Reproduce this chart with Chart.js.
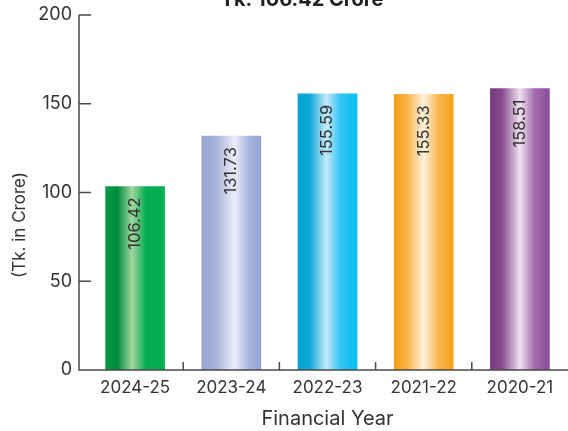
<!DOCTYPE html>
<html>
<head>
<title>Revenue by Financial Year</title>
<script src="https://cdn.jsdelivr.net/npm/chart.js"></script>
<style>
  body { margin: 0; background: #fff; }
  #wrap { width: 568px; height: 431px; }
</style>
</head>
<body>
<div id="wrap"><canvas id="revChart"></canvas></div>
<script>
// data
var years = ["2024-25", "2023-24", "2022-23", "2021-22", "2020-21"];
var valueLabels = ["106.42", "131.73", "155.59", "155.33", "158.51"];   // printed on the bars
var barHeights = [103.4, 131.73, 155.59, 155.33, 158.51];              // height the bars are drawn at
var yTicks = [0, 50, 100, 150, 200];
var titleText = "Tk. 106.42 Crore";
var yTitle = "(Tk. in Crore)";
var xTitle = "Financial Year";

// gradient stops for each bar, left to right
var barStops = [
  [[0, "#0b9a48"], [0.2, "#008b3c"], [0.45, "#a2d69e"], [0.68, "#05ad50"], [1, "#00b050"]],
  [[0, "#96a3d3"], [0.25, "#aab4dc"], [0.55, "#eaedf8"], [0.8, "#abb5de"], [1, "#97a4d4"]],
  [[0, "#00a1d2"], [0.2, "#10a9d8"], [0.48, "#c6eaf8"], [0.7, "#3ac6f2"], [1, "#00bdf0"]],
  [[0, "#f5a21c"], [0.2, "#f7ae3c"], [0.5, "#fff1dd"], [0.75, "#f9b64a"], [1, "#f5a41e"]],
  [[0, "#793a80"], [0.2, "#874b8d"], [0.5, "#f0e1f0"], [0.75, "#a16bab"], [1, "#8d4a99"]]
];

var BAR_W = 59;
var FONT = "Inter, 'Noto Sans', sans-serif";
var AXIS_COL = "#4a4a4a";

function barGradient(context){
  var chart = context.chart;
  if (!chart.chartArea) return barStops[context.dataIndex][0][1];
  var cx = chart.scales.x.getPixelForValue(context.dataIndex);
  var g = chart.ctx.createLinearGradient(cx - BAR_W / 2, 0, cx + BAR_W / 2, 0);
  barStops[context.dataIndex].forEach(function(s){ g.addColorStop(s[0], s[1]); });
  return g;
}

// axis lines, inside ticks, value labels and titles
var decor = {
  id: "decor",
  afterDatasetsDraw: function(chart){
    var ctx = chart.ctx;
    var xs = chart.scales.x, ys = chart.scales.y;
    var area = chart.chartArea;
    var axisX = area.left - 8;
    var baseY = ys.getPixelForValue(0);

    ctx.save();
    ctx.strokeStyle = AXIS_COL;
    ctx.lineWidth = 1.5;
    ctx.beginPath();
    ctx.moveTo(axisX, ys.getPixelForValue(200));
    ctx.lineTo(axisX, baseY);
    ctx.lineTo(chart.width, baseY);
    yTicks.forEach(function(v){
      if (v === 0) return;
      var y = ys.getPixelForValue(v);
      ctx.moveTo(axisX, y);
      ctx.lineTo(axisX + 12, y);
    });
    for (var i = 1; i < years.length; i++){
      var bx = (xs.getPixelForValue(i - 1) + xs.getPixelForValue(i)) / 2;
      ctx.moveTo(bx, baseY);
      ctx.lineTo(bx, baseY - 8);
    }
    ctx.stroke();

    // numbers on the bars
    ctx.fillStyle = "#333";
    ctx.font = "16.5px " + FONT;
    ctx.textAlign = "right";
    ctx.textBaseline = "middle";
    chart.getDatasetMeta(0).data.forEach(function(bar, i){
      ctx.save();
      ctx.translate(bar.x, bar.y + 11);
      ctx.rotate(-Math.PI / 2);
      ctx.fillText(valueLabels[i], 0, 0);
      ctx.restore();
    });

    // y axis title
    ctx.save();
    ctx.font = "17px " + FONT;
    ctx.textAlign = "center";
    ctx.translate(20, 225);
    ctx.rotate(-Math.PI / 2);
    ctx.fillText(yTitle, 0, 0);
    ctx.restore();

    // top title, partly off the canvas
    ctx.fillStyle = "#222";
    ctx.font = "bold 20px " + FONT;
    ctx.textAlign = "center";
    ctx.textBaseline = "alphabetic";
    ctx.fillText(titleText, 302, 6);
    ctx.restore();
  }
};

new Chart(document.getElementById("revChart"), {
  type: "bar",
  data: {
    labels: years,
    datasets: [{
      data: barHeights,
      backgroundColor: barGradient,
      borderWidth: 0,
      barThickness: BAR_W
    }]
  },
  options: {
    responsive: true,
    maintainAspectRatio: false,
    animation: false,
    layout: { padding: { top: 15, right: 0, bottom: 0, left: 0 } },
    plugins: {
      legend: { display: false },
      tooltip: { enabled: false }
    },
    scales: {
      x: {
        grid: { display: false, drawTicks: false },
        border: { display: false },
        ticks: { color: "#333", font: { family: FONT, size: 17 }, padding: 8 },
        title: {
          display: true, text: xTitle, color: "#333",
          font: { family: FONT, size: 20 }, padding: { top: 0, bottom: 0 }
        },
        afterFit: function(s){ s.height = 61; s.paddingLeft = 0; s.paddingRight = 0; }
      },
      y: {
        min: 0, max: 200,
        grid: { display: false, drawTicks: false },
        border: { display: false },
        ticks: {
          stepSize: 50, color: "#333", padding: 15,
          font: { family: FONT, size: 18 }
        },
        afterFit: function(s){ s.width = 87; s.paddingTop = 0; s.paddingBottom = 0; }
      }
    }
  },
  plugins: [decor]
});
</script>
</body>
</html>
